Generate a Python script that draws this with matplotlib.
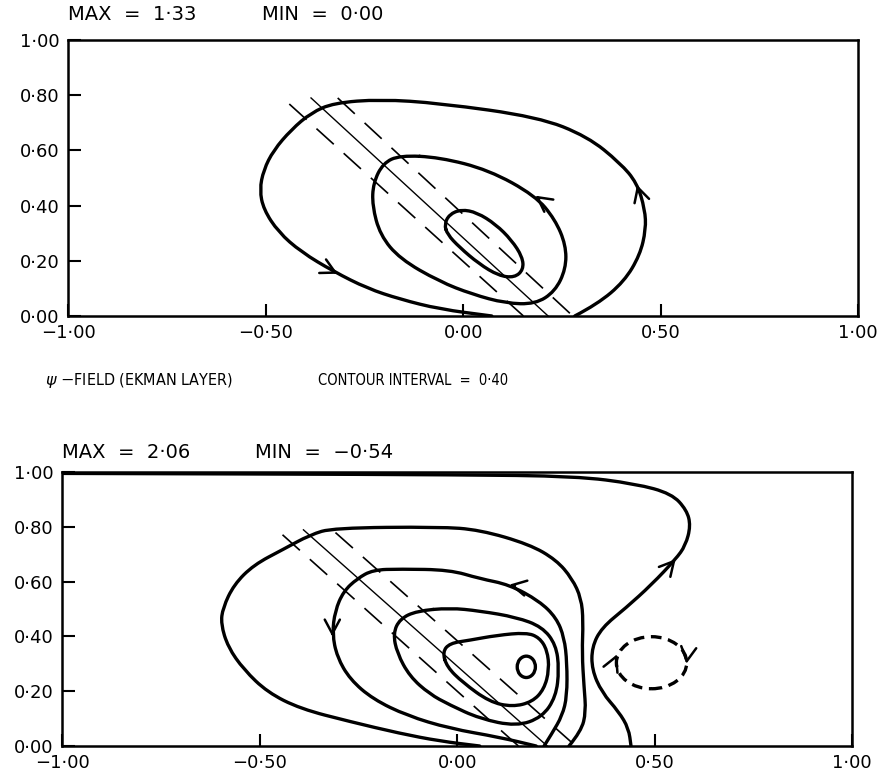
import numpy as np
import matplotlib
matplotlib.use("Agg")
import matplotlib.pyplot as plt
from matplotlib.path import Path
from matplotlib.patches import PathPatch, Ellipse

plt.rcParams['font.family'] = ['DejaVu Sans']

# ---- upper panel: contour traces (x, y) ----
top_outer = [(0.2825, 0.0), (0.34, 0.043), (0.4075, 0.125), (0.4475, 0.221), (0.4625, 0.314),
             (0.46, 0.386), (0.44, 0.482), (0.3975, 0.554), (0.315, 0.65), (0.19, 0.721),
             (-0.06, 0.771), (-0.21, 0.785), (-0.3275, 0.772), (-0.385, 0.736), (-0.435, 0.675),
             (-0.48, 0.6), (-0.505, 0.529), (-0.515, 0.457), (-0.505, 0.386), (-0.4675, 0.304),
             (-0.41, 0.232), (-0.3275, 0.161), (-0.2425, 0.1), (-0.16, 0.061), (-0.06, 0.025),
             (0.0725, 0.0)]
top_middle = [(-0.06, 0.575), (0.065, 0.529), (0.1825, 0.436), (0.2325, 0.35), (0.26, 0.257),
              (0.26, 0.171), (0.2325, 0.089), (0.1825, 0.043), (0.1075, 0.046), (0.0225, 0.079),
              (-0.06, 0.125), (-0.16, 0.207), (-0.21, 0.293), (-0.23, 0.4), (-0.2275, 0.482),
              (-0.2025, 0.554), (-0.16, 0.582)]
top_inner = [(-0.0475, 0.332), (-0.035, 0.368), (-0.005, 0.386), (0.035, 0.375), (0.0825, 0.332),
             (0.1225, 0.275), (0.15, 0.214), (0.1525, 0.168), (0.13, 0.139), (0.09, 0.146),
             (0.04, 0.189), (-0.01, 0.25), (-0.04, 0.296)]
top_solid_line = [(-0.385, 0.79), (0.215, 0.0)]
top_dashed_lines = [[(-0.3175, 0.79), (0.2775, 0.0)], [(-0.44, 0.768), (0.1525, 0.0)]]
# arrow position and direction (dx, dy)
top_arrows = [((-0.3175, 0.153), (0.085, -0.061)),
              ((0.44, 0.475), (-0.02, 0.096)),
              ((0.1825, 0.436), (-0.17, 0.18))]

# ---- lower panel ----
bot_boundary = [(-1.0, 0.995), (-0.5, 0.993), (0.0, 0.99), (0.3, 0.985), (0.452, 0.957),
                (0.543, 0.921), (0.581, 0.861), (0.591, 0.804), (0.578, 0.732), (0.553, 0.682),
                (0.492, 0.589), (0.427, 0.504), (0.366, 0.432), (0.341, 0.361), (0.341, 0.279),
                (0.366, 0.196), (0.409, 0.125), (0.434, 0.064), (0.44, 0.0)]
bot_outer = [(0.283, 0.0), (0.314, 0.054), (0.326, 0.125), (0.321, 0.218), (0.316, 0.339),
             (0.319, 0.457), (0.314, 0.539), (0.291, 0.611), (0.251, 0.679), (0.183, 0.736),
             (0.057, 0.789), (-0.044, 0.80), (-0.314, 0.796), (-0.372, 0.771), (-0.44, 0.718),
             (-0.515, 0.661), (-0.565, 0.589), (-0.593, 0.504), (-0.598, 0.446), (-0.58, 0.361),
             (-0.54, 0.279), (-0.48, 0.196), (-0.397, 0.136), (-0.271, 0.089), (-0.145, 0.046),
             (-0.044, 0.018), (0.057, 0.0)]
bot_second = [(0.22, 0.0), (0.24, 0.046), (0.266, 0.111), (0.278, 0.182), (0.278, 0.304),
              (0.271, 0.396), (0.251, 0.468), (0.208, 0.529), (0.132, 0.589), (0.057, 0.611),
              (-0.019, 0.643), (-0.145, 0.646), (-0.213, 0.643), (-0.253, 0.611), (-0.288, 0.564),
              (-0.309, 0.493), (-0.316, 0.411), (-0.304, 0.325), (-0.271, 0.243), (-0.213, 0.171),
              (-0.127, 0.111), (-0.019, 0.064), (0.107, 0.032), (0.2, 0.0)]
bot_third = [(-0.019, 0.504), (0.057, 0.493), (0.15, 0.47), (0.215, 0.435), (0.25, 0.37),
             (0.258, 0.28), (0.25, 0.18), (0.215, 0.105), (0.15, 0.072), (0.057, 0.1),
             (-0.019, 0.15), (-0.07, 0.19), (-0.12, 0.254), (-0.152, 0.339), (-0.162, 0.411),
             (-0.145, 0.464), (-0.102, 0.493)]
bot_teardrop = [(-0.037, 0.343), (-0.019, 0.375), (0.031, 0.386), (0.1, 0.404), (0.175, 0.414),
                (0.208, 0.396), (0.228, 0.35), (0.233, 0.279), (0.22, 0.207), (0.19, 0.161),
                (0.14, 0.143), (0.082, 0.161), (0.014, 0.232), (-0.026, 0.289)]
bot_max_ring = (0.175, 0.289, 0.046, 0.078)     # centre x, centre y, width, height
bot_min_ring = (0.492, 0.304, 0.178, 0.19)
bot_solid_line = [(-0.389, 0.789), (0.228, 0.0)]
bot_dashed_lines = [[(-0.308, 0.779), (0.30, 0.0)], [(-0.442, 0.771), (0.155, 0.0)]]
bot_arrows = [((-0.316, 0.40), (0.0, -0.1)),
              ((0.132, 0.589), (-0.1, 0.03)),
              ((0.553, 0.682), (0.086, 0.143)),
              ((0.405, 0.335), (0.03, 0.1)),
              ((0.580, 0.30), (-0.01, -0.1))]

x_ticks = [-1.0, -0.5, 0.0, 0.5, 1.0]
x_tick_labels = ["\u22121\u00b700", "\u22120\u00b750", "0\u00b700", "0\u00b750", "1\u00b700"]
y_ticks = [0.0, 0.2, 0.4, 0.6, 0.8, 1.0]
y_tick_labels = ["0\u00b700", "0\u00b720", "0\u00b740", "0\u00b760", "0\u00b780", "1\u00b700"]

CONTOUR_LW = 2.4


def smooth_path(points, closed):
    """Quadratic-bezier path through the midpoints of the traced points."""
    pts = np.asarray(points, dtype=float)
    if closed:
        mids = (pts + np.roll(pts, -1, axis=0)) / 2
        verts = [mids[-1]]
        codes = [Path.MOVETO]
        for p, m in zip(pts, mids):
            verts += [p, m]
            codes += [Path.CURVE3, Path.CURVE3]
    else:
        verts = [pts[0]]
        codes = [Path.MOVETO]
        for i in range(1, len(pts) - 1):
            verts += [pts[i], (pts[i] + pts[i + 1]) / 2]
            codes += [Path.CURVE3, Path.CURVE3]
        verts.append(pts[-1])
        codes.append(Path.LINETO)
    return Path(verts, codes)


def draw_contour(ax, points, closed=False, lw=CONTOUR_LW):
    patch = PathPatch(smooth_path(points, closed), fill=False, lw=lw, color="black",
                      capstyle="round", joinstyle="round")
    ax.add_patch(patch)


def draw_arrows(ax, arrows):
    for (x, y), (dx, dy) in arrows:
        n = np.hypot(dx, dy)
        ax.annotate("", xy=(x, y), xytext=(x - 0.015 * dx / n, y - 0.015 * dy / n),
                    arrowprops=dict(arrowstyle="->,head_length=0.6,head_width=0.32",
                                    lw=1.8, color="black",
                                    mutation_scale=17, shrinkA=0, shrinkB=0))


def draw_lines(ax, solid, dashed):
    (x0, y0), (x1, y1) = solid
    ax.plot([x0, x1], [y0, y1], color="black", lw=1.0)
    for (x0, y0), (x1, y1) in dashed:
        ax.plot([x0, x1], [y0, y1], color="black", lw=1.2, linestyle=(0, (14, 8)))


def style_axes(ax):
    ax.set_xlim(-1, 1)
    ax.set_ylim(0, 1)
    ax.set_xticks(x_ticks)
    ax.set_xticklabels(x_tick_labels)
    ax.set_yticks(y_ticks)
    ax.set_yticklabels(y_tick_labels)
    ax.tick_params(direction="in", length=9, width=1.5, labelsize=13, pad=6)
    for s in ax.spines.values():
        s.set_linewidth(1.8)


fig = plt.figure(figsize=(8.8, 7.81), dpi=100)
ax1 = fig.add_axes([0.0773, 0.5954, 0.898, 0.3534])
ax2 = fig.add_axes([0.0705, 0.0448, 0.898, 0.3508])

# upper panel
draw_lines(ax1, top_solid_line, top_dashed_lines)
draw_contour(ax1, top_outer)
draw_contour(ax1, top_middle, closed=True)
draw_contour(ax1, top_inner, closed=True)
draw_arrows(ax1, top_arrows)
style_axes(ax1)

# lower panel
draw_lines(ax2, bot_solid_line, bot_dashed_lines)
draw_contour(ax2, bot_boundary)
draw_contour(ax2, bot_outer)
draw_contour(ax2, bot_second)
draw_contour(ax2, bot_third, closed=True)
draw_contour(ax2, bot_teardrop, closed=True)
cx, cy, w, h = bot_max_ring
ax2.add_patch(Ellipse((cx, cy), w, h, fill=False, lw=CONTOUR_LW, color="black"))
cx, cy, w, h = bot_min_ring
ax2.add_patch(Ellipse((cx, cy), w, h, fill=False, lw=2.4, color="black",
                      linestyle=(0, (3.2, 2.0))))
draw_arrows(ax2, bot_arrows)
style_axes(ax2)

fig.text(0.077, 0.981, "MAX  =  1\u00b733", fontsize=14, va="center")
fig.text(0.298, 0.981, "MIN  =  0\u00b700", fontsize=14, va="center")
fig.text(0.0705, 0.421, "MAX  =  2\u00b706", fontsize=14, va="center")
fig.text(0.29, 0.421, "MIN  =  \u22120\u00b754", fontsize=14, va="center")
fig.text(0.051, 0.5134, r"$\psi$ $-$FIELD (EKMAN LAYER)", fontsize=11.5, va="center",
         fontstretch="condensed")
fig.text(0.361, 0.5134, "CONTOUR INTERVAL  =  0\u00b740", fontsize=10.5, va="center",
         fontstretch="condensed")

fig.savefig("out.png", dpi=100)
